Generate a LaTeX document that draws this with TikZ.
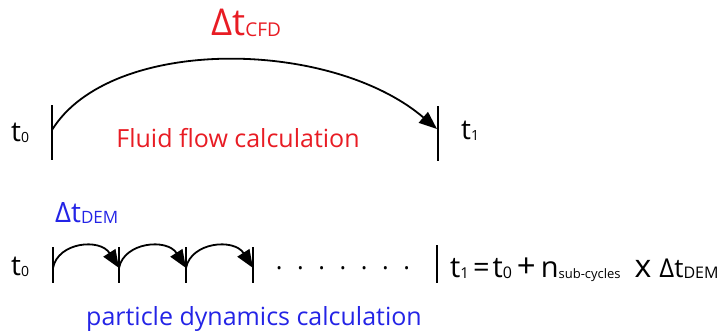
\documentclass[tikz,border=0pt]{standalone}
\usepackage{fontspec}
\setmainfont{Open Sans}
\usetikzlibrary{arrows.meta}
\definecolor{cfdred}{RGB}{232,28,36}
\definecolor{demblue}{RGB}{36,36,230}
\newcommand\sbs[2]{\raisebox{-1.5pt}{\fontsize{#1}{#1}\selectfont #2}}
\newcommand\fs[1]{\fontsize{#1}{#1}\selectfont}
\begin{document}
\begin{tikzpicture}[x=1pt,y=-1pt,
  tick/.style={line width=2pt},
  jump/.style={line width=1.8pt,-{Triangle[length=18pt,width=14pt]}},
  lbl/.style={inner sep=0pt, anchor=base, font=\fs{25}}]
\useasboundingbox (0,0) rectangle (724,333);
% top row
\coordinate (a0t) at (52,105); \coordinate (a0b) at (52,160);
\coordinate (a1t) at (438,106); \coordinate (a1b) at (438,161);
\draw[tick] (a0t) -- (a0b);
\draw[tick] (a1t) -- (a1b);
\coordinate (s0) at (52,130); \coordinate (e0) at (437,129);
\draw[jump] (s0) .. controls (110,36) and (330,38) .. (e0);
\node[lbl,anchor=base west,font=\fs{28}] (t0a) at (11,141) {t\sbs{14}{0}};
\node[lbl,anchor=base west,font=\fs{28}] (t1a) at (461,139) {t\sbs{14}{1}};
\node[lbl,text=cfdred] (fluid) at (238,147) {Fluid flow calculation};
\node[lbl,anchor=base west,text=cfdred,font=\fs{37}] (cfd) at (211,35) {Δt\sbs{19}{CFD}};
% bottom row
\foreach \i/\x in {0/53,1/119,2/186,3/253}{
  \coordinate (bt\i) at (\x,247); \coordinate (bb\i) at (\x,283);
  \draw[tick] (bt\i) -- (bb\i);
}
\coordinate (bt4) at (437,245); \coordinate (bb4) at (437,283);
\draw[tick] (bt4) -- (bb4);
\foreach \i/\x/\y in {0/53/119,1/119/186,2/186/253}{
  \coordinate (js\i) at (\x,268); \coordinate (je\i) at (\y,268);
  \draw[jump] (js\i) .. controls ([xshift=5pt,yshift=26pt]js\i) and ([xshift=-19pt,yshift=30pt]je\i) .. (je\i);
}
\node[lbl,anchor=base west,font=\fs{28}] (t0b) at (11,275) {t\sbs{14}{0}};
\node[lbl,anchor=base west,text=demblue,font=\fs{28}] (dem) at (55,222) {Δt\sbs{17}{DEM}};
\node[lbl] (dots) at (343,269.5) {.\hspace{14.6pt}.\hspace{14.6pt}.\hspace{14.6pt}.\hspace{14.6pt}.\hspace{14.6pt}.\hspace{14.6pt}.};
\node[lbl,anchor=base west,font=\fs{29}] (eq) at (450,277) {t\sbs{15}{1}\hspace{4pt}=\hspace{3pt}t\sbs{16}{0}\hspace{5pt}{\fs{33}+}\hspace{5pt}n\sbs{13}{sub-cycles}\hspace{14pt}{\fs{32}x}\hspace{8pt}{\fs{26}Δt\sbs{16}{DEM}}};
\node[lbl,text=demblue] (pdc) at (254,325) {particle dynamics calculation};
\end{tikzpicture}
\end{document}
